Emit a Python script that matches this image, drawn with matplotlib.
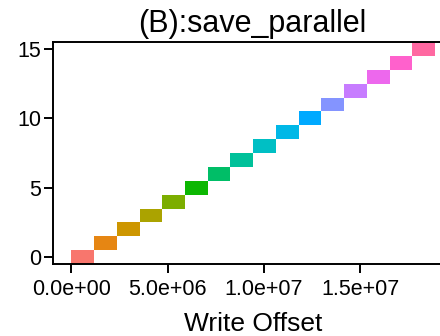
import matplotlib
matplotlib.use("Agg")
from matplotlib import pyplot as plt
from matplotlib.ticker import FuncFormatter

ranks = list(range(16))
offsets = [0, 1179648, 2359296, 3538944, 4718592, 5898240, 7077888, 8257536,
           9437184, 10616832, 11796480, 12976128, 14155776, 15335424, 16515072, 17694720]
sizes = [1179648] * 16
colors = ["#F8766D", "#E68613", "#CD9600", "#ABA300", "#7CAE00", "#0CB702",
          "#00BE67", "#00C19A", "#00BFC4", "#00B8E7", "#00A9FF", "#8494FF",
          "#C77CFF", "#ED68ED", "#FF61CC", "#FF68A1"]
xticks = [0, 5e6, 1e7, 1.5e7]
yticks = [0, 5, 10, 15]

plt.rcParams['font.family'] = ['Liberation Sans', 'DejaVu Sans']

fig = plt.figure(figsize=(4.4, 3.36), dpi=100)
ax = fig.add_axes([53 / 440, 1 - 264 / 336, 1 - 53 / 440, (264 - 42) / 336])

ax.barh(ranks, sizes, left=offsets, height=1.0, color=colors, edgecolor="none")

ax.set_xlim(-0.95e6, 19.13e6)
ax.set_ylim(-0.5, 15.5)
ax.set_xticks(xticks)
ax.set_yticks(yticks)
ax.xaxis.set_major_formatter(FuncFormatter(lambda v, p: "%.1e" % v))

for s in ["left", "bottom", "top"]:
    ax.spines[s].set_linewidth(1.4)
    ax.spines[s].set_color("black")
ax.spines["right"].set_visible(False)
ax.tick_params(axis="both", length=6.5, width=1.4, labelsize=15.5, colors="black", pad=2)
ax.tick_params(axis="x", pad=4)

fig.text(252 / 440, 1 - 32 / 336, "(B):save_parallel", ha="center", va="baseline", fontsize=22)
fig.text(253 / 440, 1 - 331 / 336, "Write Offset", ha="center", va="baseline", fontsize=19)

fig.savefig("out.png", dpi=100)
